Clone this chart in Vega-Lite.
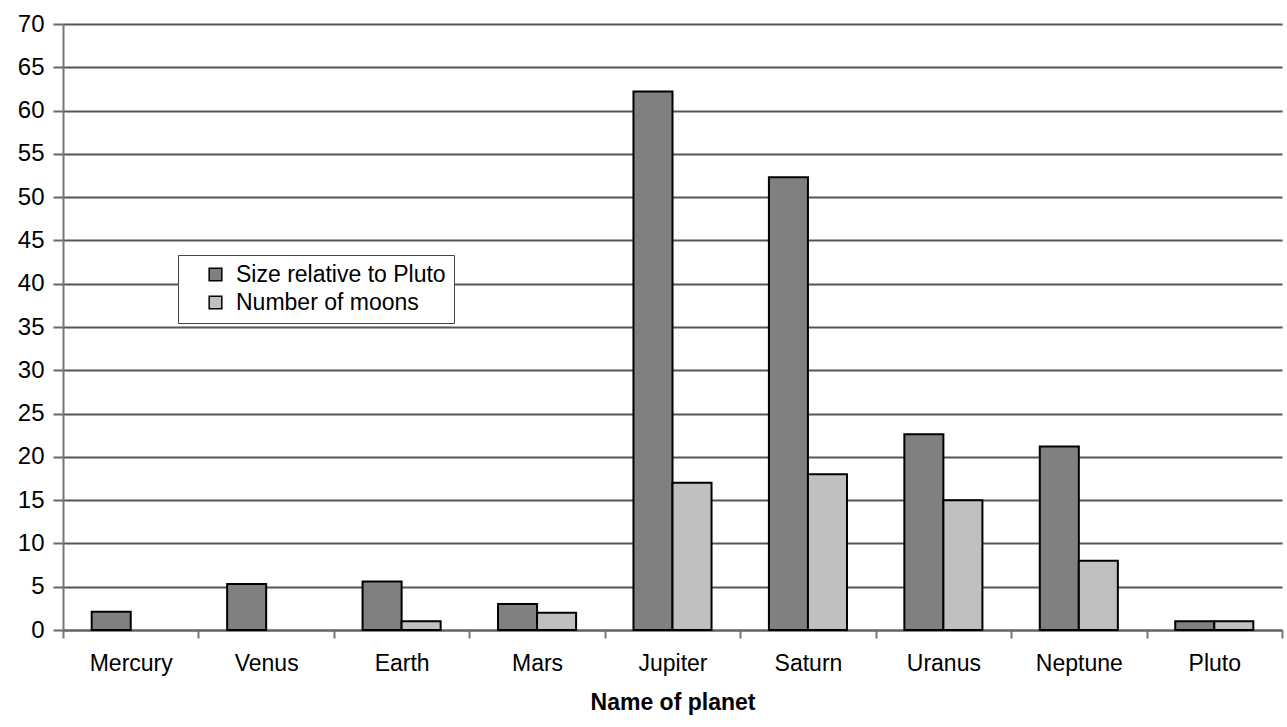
{
  "$schema": "https://vega.github.io/schema/vega-lite/v6.json",
  "width": 1219,
  "height": 606,
  "autosize": {"type": "none"},
  "padding": {"left": 63, "top": 24, "right": 5, "bottom": 97},
  "background": "white",
  "config": {
    "view": {"stroke": null},
    "font": "Liberation Sans"
  },
  "data": {
    "values": [
      {"planet": "Mercury", "series": "Size relative to Pluto", "value": 2.1},
      {"planet": "Mercury", "series": "Number of moons", "value": 0},
      {"planet": "Venus", "series": "Size relative to Pluto", "value": 5.3},
      {"planet": "Venus", "series": "Number of moons", "value": 0},
      {"planet": "Earth", "series": "Size relative to Pluto", "value": 5.6},
      {"planet": "Earth", "series": "Number of moons", "value": 1},
      {"planet": "Mars", "series": "Size relative to Pluto", "value": 3.0},
      {"planet": "Mars", "series": "Number of moons", "value": 2},
      {"planet": "Jupiter", "series": "Size relative to Pluto", "value": 62.2},
      {"planet": "Jupiter", "series": "Number of moons", "value": 17},
      {"planet": "Saturn", "series": "Size relative to Pluto", "value": 52.3},
      {"planet": "Saturn", "series": "Number of moons", "value": 18},
      {"planet": "Uranus", "series": "Size relative to Pluto", "value": 22.6},
      {"planet": "Uranus", "series": "Number of moons", "value": 15},
      {"planet": "Neptune", "series": "Size relative to Pluto", "value": 21.2},
      {"planet": "Neptune", "series": "Number of moons", "value": 8},
      {"planet": "Pluto", "series": "Size relative to Pluto", "value": 1},
      {"planet": "Pluto", "series": "Number of moons", "value": 1}
    ]
  },
  "transform": [{"filter": "datum.value > 0"}],
  "mark": {"type": "bar", "stroke": "black", "strokeWidth": 2},
  "encoding": {
    "x": {
      "field": "planet",
      "type": "nominal",
      "sort": ["Mercury", "Venus", "Earth", "Mars", "Jupiter", "Saturn", "Uranus", "Neptune", "Pluto"],
      "scale": {"paddingInner": 0, "paddingOuter": 0},
      "axis": {
        "title": "Name of planet",
        "titleFontSize": 23,
        "titleFontWeight": "bold",
        "titleColor": "black",
        "titlePadding": 16,
        "labelAngle": 0,
        "labelFontSize": 23,
        "labelColor": "black",
        "labelPadding": 14,
        "tickBand": "extent",
        "tickSize": 8,
        "tickColor": "#777",
        "tickWidth": 2,
        "domainColor": "#666",
        "domainWidth": 2,
        "grid": false
      }
    },
    "xOffset": {
      "field": "series",
      "type": "nominal",
      "sort": ["Size relative to Pluto", "Number of moons"],
      "scale": {"domain": ["Size relative to Pluto", "Number of moons"], "paddingInner": 0, "paddingOuter": 0.735}
    },
    "y": {
      "field": "value",
      "type": "quantitative",
      "scale": {"domain": [0, 70], "nice": false},
      "axis": {
        "title": null,
        "values": [0, 5, 10, 15, 20, 25, 30, 35, 40, 45, 50, 55, 60, 65, 70],
        "labelFontSize": 24,
        "labelColor": "black",
        "labelPadding": 9,
        "tickSize": 10,
        "tickColor": "#666",
        "tickWidth": 2,
        "domainColor": "#777",
        "domainWidth": 2,
        "gridColor": "#555",
        "gridWidth": 2,
        "gridOpacity": 1
      }
    },
    "fill": {
      "field": "series",
      "type": "nominal",
      "sort": ["Size relative to Pluto", "Number of moons"],
      "scale": {"domain": ["Size relative to Pluto", "Number of moons"], "range": ["#808080", "#c0c0c0"]},
      "legend": {
        "title": null,
        "orient": "none",
        "legendX": 115,
        "legendY": 231,
        "symbolType": "square",
        "symbolSize": 160,
        "symbolOffset": 18,
        "symbolStrokeColor": "black",
        "symbolStrokeWidth": 1.5,
        "labelFontSize": 23,
        "labelColor": "black",
        "labelOffset": 9,
        "rowPadding": 4,
        "padding": 8,
        "offset": 0,
        "strokeColor": "#444",
        "fillColor": "white",
        "labelLimit": 400
      }
    }
  }
}
